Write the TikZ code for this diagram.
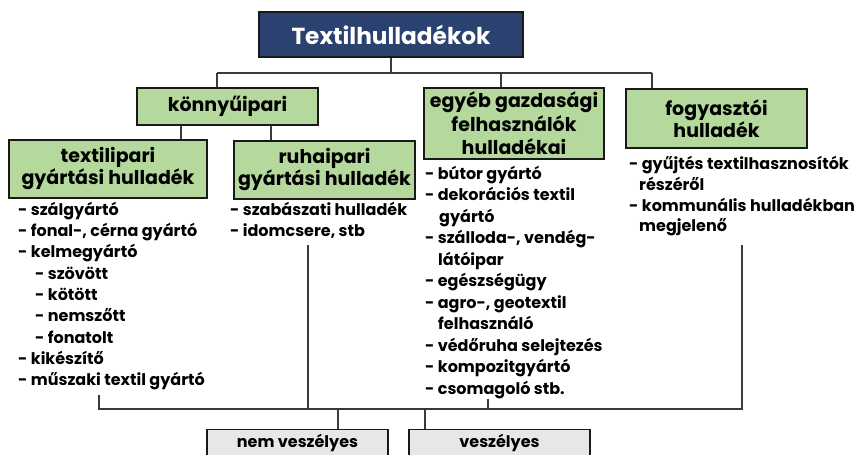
\documentclass[tikz,border=0pt]{standalone}
\usepackage{fontspec}
\setmainfont{Poppins}
\definecolor{navy}{HTML}{2B4270}
\definecolor{leaf}{HTML}{B5D99C}
\definecolor{pale}{HTML}{E6E7E8}
\definecolor{wirecol}{HTML}{3A3A3A}
\begin{document}
\begin{tikzpicture}[x=1pt,y=-1pt,
  box/.style={draw=black!90, line width=1.2pt, inner sep=0pt, align=center, font=\bfseries\fontsize{19}{22}\selectfont},
  gbox/.style={box, fill=leaf},
  link/.style={draw=wirecol, line width=1.3pt},
  lst/.style={anchor=north west, inner sep=0pt, align=left, font=\bfseries\fontsize{16}{21.3}\selectfont}]
\fill[white] (0,0) rectangle (857,455);
\useasboundingbox (0,0) rectangle (857,455);

\node[box, fill=navy, text=white, minimum width=264pt, minimum height=45pt, font=\bfseries\fontsize{23.2}{26}\selectfont] (title) at (391,34.5) {Textilhulladékok};
\node[gbox, minimum width=181pt, minimum height=37pt] (konny) at (227.5,106.5) {könnyűipari};
\node[gbox, minimum width=198pt, minimum height=58pt] (textil) at (108,169) {textilipari\\gyártási hulladék};
\node[gbox, minimum width=181pt, minimum height=58pt] (ruha) at (324.5,170) {ruhaipari\\gyártási hulladék};
\node[gbox, minimum width=180pt, minimum height=71pt, font=\bfseries\fontsize{19}{23.5}\selectfont] (egyeb) at (514,123.5) {egyéb gazdasági\\felhasználók\\hulladékai};
\node[gbox, minimum width=181pt, minimum height=59pt] (fogy) at (716.5,118.5) {fogyasztói\\hulladék};

\node[box, fill=pale, anchor=north, minimum width=181pt, text height=17.5pt, text depth=18pt, font=\bfseries\fontsize{16}{18}\selectfont] (nemv) at (297.5,429) {nem veszélyes};
\node[box, fill=pale, anchor=north, minimum width=181pt, text height=17.5pt, text depth=18pt, font=\bfseries\fontsize{16}{18}\selectfont] (vesz) at (499.5,429) {veszélyes};

\node[lst] (tl) at (18,200.1) {\strut- szálgyártó\\- fonal-, cérna gyártó\\- kelmegyártó\\\hspace*{17pt}- szövött\\\hspace*{17pt}- kötött\\\hspace*{17pt}- nemszőtt\\\hspace*{17pt}- fonatolt\\- kikészítő\\- műszaki textil gyártó};
\node[lst] (rl) at (230,200.1) {\strut- szabászati hulladék\\- idomcsere, stb};
\node[lst, font=\bfseries\fontsize{16}{21.5}\selectfont] (el) at (425,163.95) {\strut- bútor gyártó\\- dekorációs textil\\\hspace*{14pt}gyártó\\- szálloda-, vendég-\\\hspace*{13pt}látóipar\\- egészségügy\\- agro-, geotextil\\\hspace*{13pt}felhasználó\\- védőruha selejtezés\\- kompozitgyártó\\- csomagoló stb.};
\node[lst, font=\bfseries\fontsize{16}{20.7}\selectfont] (fl) at (629,155) {\strut- gyűjtés textilhasznosítók\\\hspace*{10pt}részéről\\- kommunális hulladékban\\\hspace*{10pt}megjelenő};

\coordinate (hl) at (217,73);
\coordinate (hm) at (501,73);
\coordinate (hr) at (652,73);
\draw[link] (title.south) -- (title.south |- hl);
\draw[link] (hl) -- (hr);
\draw[link] (hl) -- (hl |- konny.north);
\draw[link] (hm) -- (hm |- egyeb.north);
\draw[link] (hr) -- (hr |- fogy.north);
\coordinate (ka) at (181,125);
\coordinate (kb) at (271,125);
\draw[link] (konny.south -| ka) -- (textil.north -| ka);
\draw[link] (konny.south -| kb) -- (ruha.north -| kb);

\coordinate (b1) at (99,395);
\coordinate (b2) at (308,245);
\coordinate (b3) at (488,399);
\coordinate (b4) at (742,245);
\coordinate (bl) at (99,409);
\coordinate (br) at (742,409);
\draw[link] (b1) -- (bl) -- (br) -- (b4);
\draw[link] (b2) -- (b2 |- bl);
\draw[link] (b3) -- (b3 |- bl);
\coordinate (n1) at (338,409);
\coordinate (n2) at (425,409);
\draw[link] (n1) -- (n1 |- nemv.north);
\draw[link] (n2) -- (n2 |- vesz.north);
\end{tikzpicture}
\end{document}
